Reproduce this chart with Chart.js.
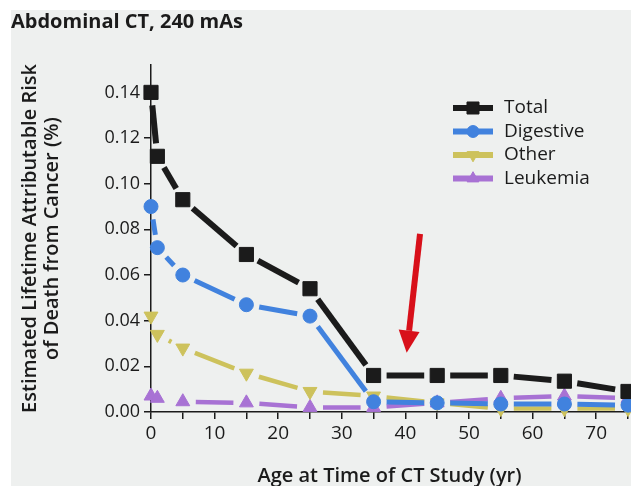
<!DOCTYPE html>
<html>
<head>
<meta charset="utf-8">
<script src="https://cdn.jsdelivr.net/npm/chart.js"></script>
<style>
  html, body { margin: 0; padding: 0; background: #fff; }
  #wrap { width: 631px; height: 486px; position: relative; }
</style>
</head>
<body>
<div id="wrap"><canvas id="mycanvas" width="631" height="486"></canvas></div>
<script>
// ages at time of CT study (yr)
var ages = [0, 1, 5, 15, 25, 35, 45, 55, 65, 75];

// estimated lifetime attributable risk of death (%)
var total     = [0.140, 0.112, 0.093, 0.069, 0.054, 0.016, 0.016, 0.016, 0.0135, 0.009];
var digestive = [0.090, 0.072, 0.060, 0.047, 0.042, 0.0045, 0.004, 0.0035, 0.0035, 0.003];
var other     = [0.042, 0.034, 0.028, 0.017, 0.009, 0.007, 0.004, 0.0015, 0.0015, 0.0015];
var leukemia  = [0.007, 0.006, 0.0045, 0.004, 0.002, 0.002, 0.004, 0.006, 0.007, 0.006];

var seriesNames = ["Total", "Digestive", "Other", "Leukemia"];

// where the red arrow points (age, risk)
var arrowFrom = [42.3, 0.078];
var arrowTo = [40.2, 0.026];

var FONT = "'Open Sans', 'DejaVu Sans', sans-serif";
var INK = "#1b1b1b";

function toPoints(vals) {
  var pts = [];
  for (var i in vals) {
    pts.push({x: ages[i], y: vals[i]});
  }
  return pts;
}

// dashed segments that stop short of the markers
function gapDash(gap) {
  return {
    borderDash: function(ctx) {
      var L = Math.hypot(ctx.p1.x - ctx.p0.x, ctx.p1.y - ctx.p0.y);
      var d = Math.max(0, L - 2 * gap);
      return [d, L - d + 0.01];
    },
    borderDashOffset: function(ctx) {
      var L = Math.hypot(ctx.p1.x - ctx.p0.x, ctx.p1.y - ctx.p0.y);
      var d = Math.max(0, L - 2 * gap);
      return -(L - d) / 2;
    }
  };
}

function makeSet(label, vals, color, style, radius, width, rot) {
  return {
    label: label,
    data: toPoints(vals),
    borderColor: color,
    backgroundColor: color,
    borderWidth: width,
    borderCapStyle: "butt",
    pointStyle: style,
    pointRadius: radius,
    pointHoverRadius: radius,
    pointRotation: rot || 0,
    pointBorderWidth: 1,
    pointBorderColor: color,
    pointBackgroundColor: color,
    tension: 0,
    clip: false,
    segment: gapDash(13)
  };
}

var bgPlugin = {
  id: "bg",
  beforeDraw: function(chart) {
    var c = chart.ctx;
    c.save();
    c.fillStyle = "#ffffff";
    c.fillRect(0, 0, chart.width, chart.height);
    c.fillStyle = "#eef0ef";
    c.fillRect(11, 10, chart.width - 11, chart.height - 10);
    c.restore();
  }
};

var legendPlugin = {
  id: "insideLegend",
  afterDatasetsDraw: function(chart) {
    var c = chart.ctx;
    var x0 = chart.chartArea.right - 175;
    var y0 = chart.chartArea.top + 43;
    c.save();
    chart.data.datasets.forEach(function(ds, i) {
      var y = y0 + i * 23.5;
      c.strokeStyle = ds.borderColor;
      c.lineWidth = 6;
      c.beginPath();
      c.moveTo(x0, y);
      c.lineTo(x0 + 40, y);
      c.stroke();
      c.fillStyle = ds.pointBackgroundColor;
      c.strokeStyle = ds.pointBorderColor;
      c.lineWidth = 1;
      Chart.helpers.drawPoint(c, {
        pointStyle: ds.pointStyle,
        radius: ds.pointRadius * 0.85,
        rotation: ds.pointRotation,
        borderWidth: 1
      }, x0 + 20, y);
      c.fillStyle = INK;
      c.font = "19px " + FONT;
      c.textBaseline = "middle";
      c.textAlign = "left";
      c.fillText(ds.label, x0 + 51, y);
    });
    c.restore();
  }
};

var arrowPlugin = {
  id: "arrow",
  afterDraw: function(chart) {
    var xs = chart.scales.x, ys = chart.scales.y, c = chart.ctx;
    var x1 = xs.getPixelForValue(arrowFrom[0]), y1 = ys.getPixelForValue(arrowFrom[1]);
    var x2 = xs.getPixelForValue(arrowTo[0]), y2 = ys.getPixelForValue(arrowTo[1]);
    var ang = Math.atan2(y2 - y1, x2 - x1);
    var head = 22, half = 10.5;
    var bx = x2 - Math.cos(ang) * head, by = y2 - Math.sin(ang) * head;
    c.save();
    c.strokeStyle = "#d8101a";
    c.fillStyle = "#d8101a";
    c.lineWidth = 6;
    c.beginPath();
    c.moveTo(x1, y1);
    c.lineTo(bx, by);
    c.stroke();
    c.beginPath();
    c.moveTo(x2, y2);
    c.lineTo(bx + Math.sin(ang) * half, by - Math.cos(ang) * half);
    c.lineTo(bx - Math.sin(ang) * half, by + Math.cos(ang) * half);
    c.closePath();
    c.fill();
    c.restore();
  }
};

var ctx = document.getElementById("mycanvas");

var LineGraph = new Chart(ctx, {
  type: "line",
  data: {
    datasets: [
      makeSet(seriesNames[0], total, "#1b1b1b", "rect", 10, 6),
      makeSet(seriesNames[1], digestive, "#4182de", "circle", 7, 5),
      makeSet(seriesNames[2], other, "#cdc25c", "triangle", 8, 4.5, 180),
      makeSet(seriesNames[3], leukemia, "#a872d4", "triangle", 8, 4.5)
    ]
  },
  options: {
    responsive: false,
    animation: false,
    layout: { autoPadding: false, padding: { left: 11, right: 3, top: 0, bottom: 0 } },
    plugins: {
      legend: { display: false },
      tooltip: { enabled: false },
      title: {
        display: true,
        text: "Abdominal CT, 240 mAs",
        align: "start",
        color: INK,
        font: { family: FONT, size: 20, weight: "bold", lineHeight: 1.2 },
        padding: { top: 10, bottom: 31 }
      }
    },
    scales: {
      x: {
        type: "linear",
        min: 0,
        max: 75,
        afterFit: function(s) { s.height = 74; },
        border: { display: true, color: INK, width: 1.5 },
        grid: { drawOnChartArea: false, drawTicks: true, tickLength: 7, color: INK, lineWidth: 1.5 },
        ticks: {
          stepSize: 5,
          color: INK,
          padding: 3,
          maxRotation: 0,
          font: { family: FONT, size: 19 },
          callback: function(v) { return v % 10 === 0 ? String(v) : ""; }
        },
        title: {
          display: true,
          text: "Age at Time of CT Study (yr)",
          color: INK,
          font: { family: FONT, size: 20, weight: "600", lineHeight: 1.0 },
          padding: 0
        }
      },
      y: {
        min: 0,
        max: 0.152,
        afterFit: function(s) { s.width = 140; },
        border: { display: true, color: INK, width: 1.5 },
        grid: { drawOnChartArea: false, drawTicks: true, tickLength: 7, color: INK, lineWidth: 1.5 },
        ticks: {
          stepSize: 0.02,
          includeBounds: false,
          color: INK,
          padding: 4,
          font: { family: FONT, size: 18 },
          callback: function(v) { return v.toFixed(2); }
        },
        title: {
          display: true,
          text: ["Estimated Lifetime Attributable Risk", "of Death from Cancer (%)"],
          color: INK,
          font: { family: FONT, size: 20, weight: "600", lineHeight: 1.1 },
          padding: { top: 8, bottom: 0 }
        }
      }
    }
  },
  plugins: [bgPlugin, legendPlugin, arrowPlugin]
});
</script>
</body>
</html>
